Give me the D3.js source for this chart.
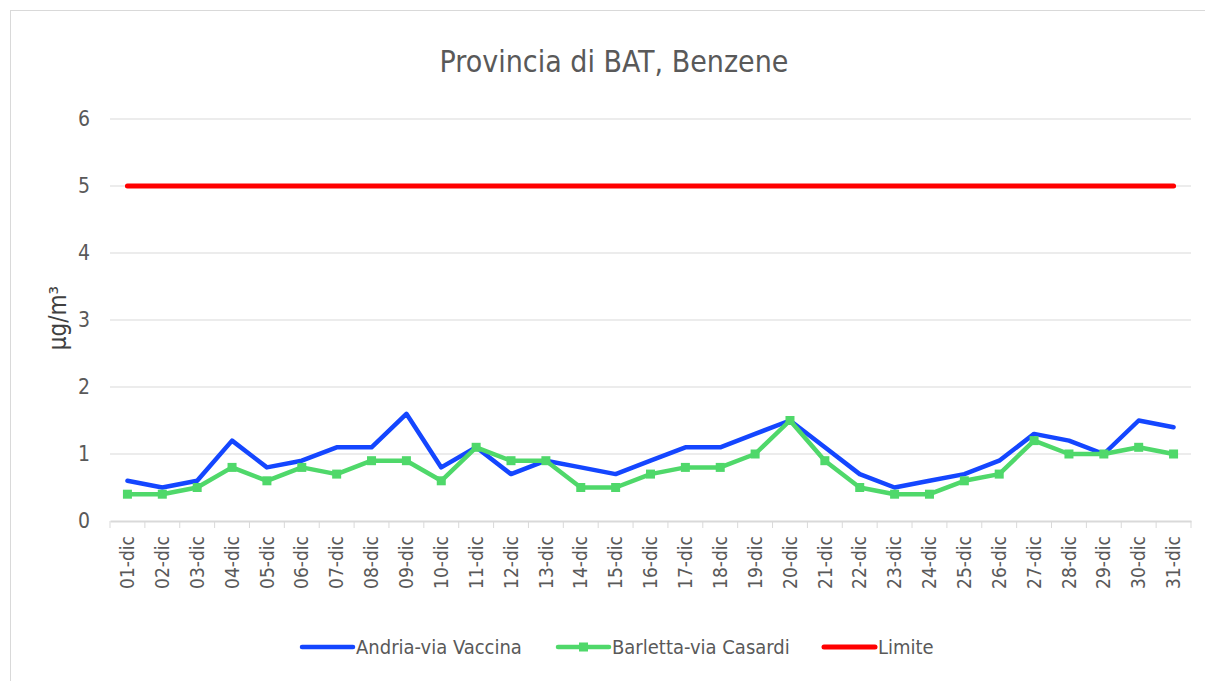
<!DOCTYPE html>
<html>
<head>
<meta charset="utf-8">
<script src="https://cdn.jsdelivr.net/npm/d3@7"></script>
<style>
    body { margin: 0; background: #fff; }
    text { font-family: "DejaVu Sans Condensed", "Open Sans", sans-serif; }
</style>
</head>
<body>
<svg id="svg-main"></svg>
<script>
const TITLE = "Provincia di BAT, Benzene";
const Y_LABEL = "µg/m³";

const days = ["01-dic", "02-dic", "03-dic", "04-dic", "05-dic", "06-dic", "07-dic", "08-dic", "09-dic", "10-dic",
    "11-dic", "12-dic", "13-dic", "14-dic", "15-dic", "16-dic", "17-dic", "18-dic", "19-dic", "20-dic",
    "21-dic", "22-dic", "23-dic", "24-dic", "25-dic", "26-dic", "27-dic", "28-dic", "29-dic", "30-dic", "31-dic"];

const andria = [0.6, 0.5, 0.6, 1.2, 0.8, 0.9, 1.1, 1.1, 1.6, 0.8,
    1.1, 0.7, 0.9, 0.8, 0.7, 0.9, 1.1, 1.1, 1.3, 1.5,
    1.1, 0.7, 0.5, 0.6, 0.7, 0.9, 1.3, 1.2, 1.0, 1.5, 1.4];

const barletta = [0.4, 0.4, 0.5, 0.8, 0.6, 0.8, 0.7, 0.9, 0.9, 0.6,
    1.1, 0.9, 0.9, 0.5, 0.5, 0.7, 0.8, 0.8, 1.0, 1.5,
    0.9, 0.5, 0.4, 0.4, 0.6, 0.7, 1.2, 1.0, 1.0, 1.1, 1.0];

const limite = days.map(() => 5);

const yTicks = [0, 1, 2, 3, 4, 5, 6];

const seriesNames = ["Andria-via Vaccina", "Barletta-via Casardi", "Limite"];
const seriesColors = ["#1446ff", "#4fd86a", "#ff0000"];

var Dims = {
    Width: 1205,
    Height: 681,
    Plot: { Left: 110, Right: 1191, Top: 119, Bottom: 521 },
    LegendX: [302, 558, 824],
    LegendY: 647
};

var svg = d3.select("#svg-main")
    .attr("width", Dims.Width)
    .attr("height", Dims.Height);

// chart frame (right/bottom edges fall outside the view)
svg.append("rect")
    .attr("x", 10.5).attr("y", 10.5)
    .attr("width", Dims.Width).attr("height", Dims.Height)
    .attr("fill", "none")
    .attr("stroke", "#d9d9d9");

var x = d3.scaleBand()
    .domain(days)
    .range([Dims.Plot.Left, Dims.Plot.Right]);

var y = d3.scaleLinear()
    .domain([0, 6])
    .range([Dims.Plot.Bottom, Dims.Plot.Top]);

var cx = d => x(d) + x.bandwidth() / 2;

// gridlines
svg.append("g")
    .selectAll("line")
    .data(yTicks.filter(t => t > 0))
    .enter()
    .append("line")
    .attr("x1", Dims.Plot.Left).attr("x2", Dims.Plot.Right)
    .attr("y1", d => y(d)).attr("y2", d => y(d))
    .attr("stroke", "#d9d9d9")
    .attr("stroke-width", 1);

// y axis labels
var yAxis = svg.append("g")
    .attr("transform", `translate(${Dims.Plot.Left}, 0)`)
    .call(d3.axisLeft(y).tickValues(yTicks).tickFormat(d3.format("d")).tickSize(0).tickPadding(20));
yAxis.select(".domain").remove();
yAxis.selectAll("text")
    .attr("fill", "#595959")
    .style("font-size", "21px");

// x axis
var xAxis = svg.append("g")
    .attr("transform", `translate(0, ${Dims.Plot.Bottom})`)
    .call(d3.axisBottom(x).tickSize(0));
xAxis.select(".domain")
    .attr("stroke", "#d9d9d9")
    .attr("stroke-width", 2);
xAxis.selectAll("text")
    .attr("fill", "#595959")
    .style("font-size", "19px")
    .attr("transform", "rotate(-90)")
    .attr("text-anchor", "end")
    .attr("x", -15)
    .attr("y", 0)
    .attr("dy", "0.35em");

// tick marks between categories
svg.append("g")
    .selectAll("line")
    .data(days.concat(["end"]))
    .enter()
    .append("line")
    .attr("x1", (d, i) => Dims.Plot.Left + i * x.step())
    .attr("x2", (d, i) => Dims.Plot.Left + i * x.step())
    .attr("y1", Dims.Plot.Bottom)
    .attr("y2", Dims.Plot.Bottom + 7)
    .attr("stroke", "#d9d9d9")
    .attr("stroke-width", 1);

var line = d3.line()
    .x((d, i) => cx(days[i]))
    .y(d => y(d));

var allSeries = [andria, barletta, limite];

svg.append("g")
    .selectAll("path")
    .data(allSeries)
    .enter()
    .append("path")
    .attr("d", d => line(d))
    .attr("fill", "none")
    .attr("stroke", (d, i) => seriesColors[i])
    .attr("stroke-width", (d, i) => i == 2 ? 5 : 4.5)
    .attr("stroke-linejoin", "round")
    .attr("stroke-linecap", "round");

// markers for Barletta
svg.append("g")
    .selectAll("rect")
    .data(barletta)
    .enter()
    .append("rect")
    .attr("x", (d, i) => cx(days[i]) - 4.5)
    .attr("y", d => y(d) - 4.5)
    .attr("width", 9)
    .attr("height", 9)
    .attr("fill", seriesColors[1]);

// title
svg.append("text")
    .attr("x", 614)
    .attr("y", 72)
    .attr("text-anchor", "middle")
    .attr("fill", "#595959")
    .style("font-size", "30px")
    .text(TITLE);

// y axis title
svg.append("text")
    .attr("transform", `translate(66, 318) rotate(-90)`)
    .attr("text-anchor", "middle")
    .attr("fill", "#404040")
    .style("font-size", "24px")
    .text(Y_LABEL);

// legend
var legend = svg.append("g")
    .selectAll("g")
    .data(seriesNames)
    .enter()
    .append("g")
    .attr("transform", (d, i) => `translate(${Dims.LegendX[i]}, ${Dims.LegendY})`);

legend.append("line")
    .attr("x1", 0).attr("x2", 51)
    .attr("y1", 0).attr("y2", 0)
    .attr("stroke", (d, i) => seriesColors[i])
    .attr("stroke-width", (d, i) => i == 2 ? 5 : 4.5)
    .attr("stroke-linecap", "round");

legend.filter((d, i) => i == 1)
    .append("rect")
    .attr("x", 21).attr("y", -4.5)
    .attr("width", 9).attr("height", 9)
    .attr("fill", seriesColors[1]);

legend.append("text")
    .attr("x", 54)
    .attr("y", 0)
    .attr("dy", "0.35em")
    .attr("fill", "#595959")
    .style("font-size", "20px")
    .text(d => d);
</script>
</body>
</html>
